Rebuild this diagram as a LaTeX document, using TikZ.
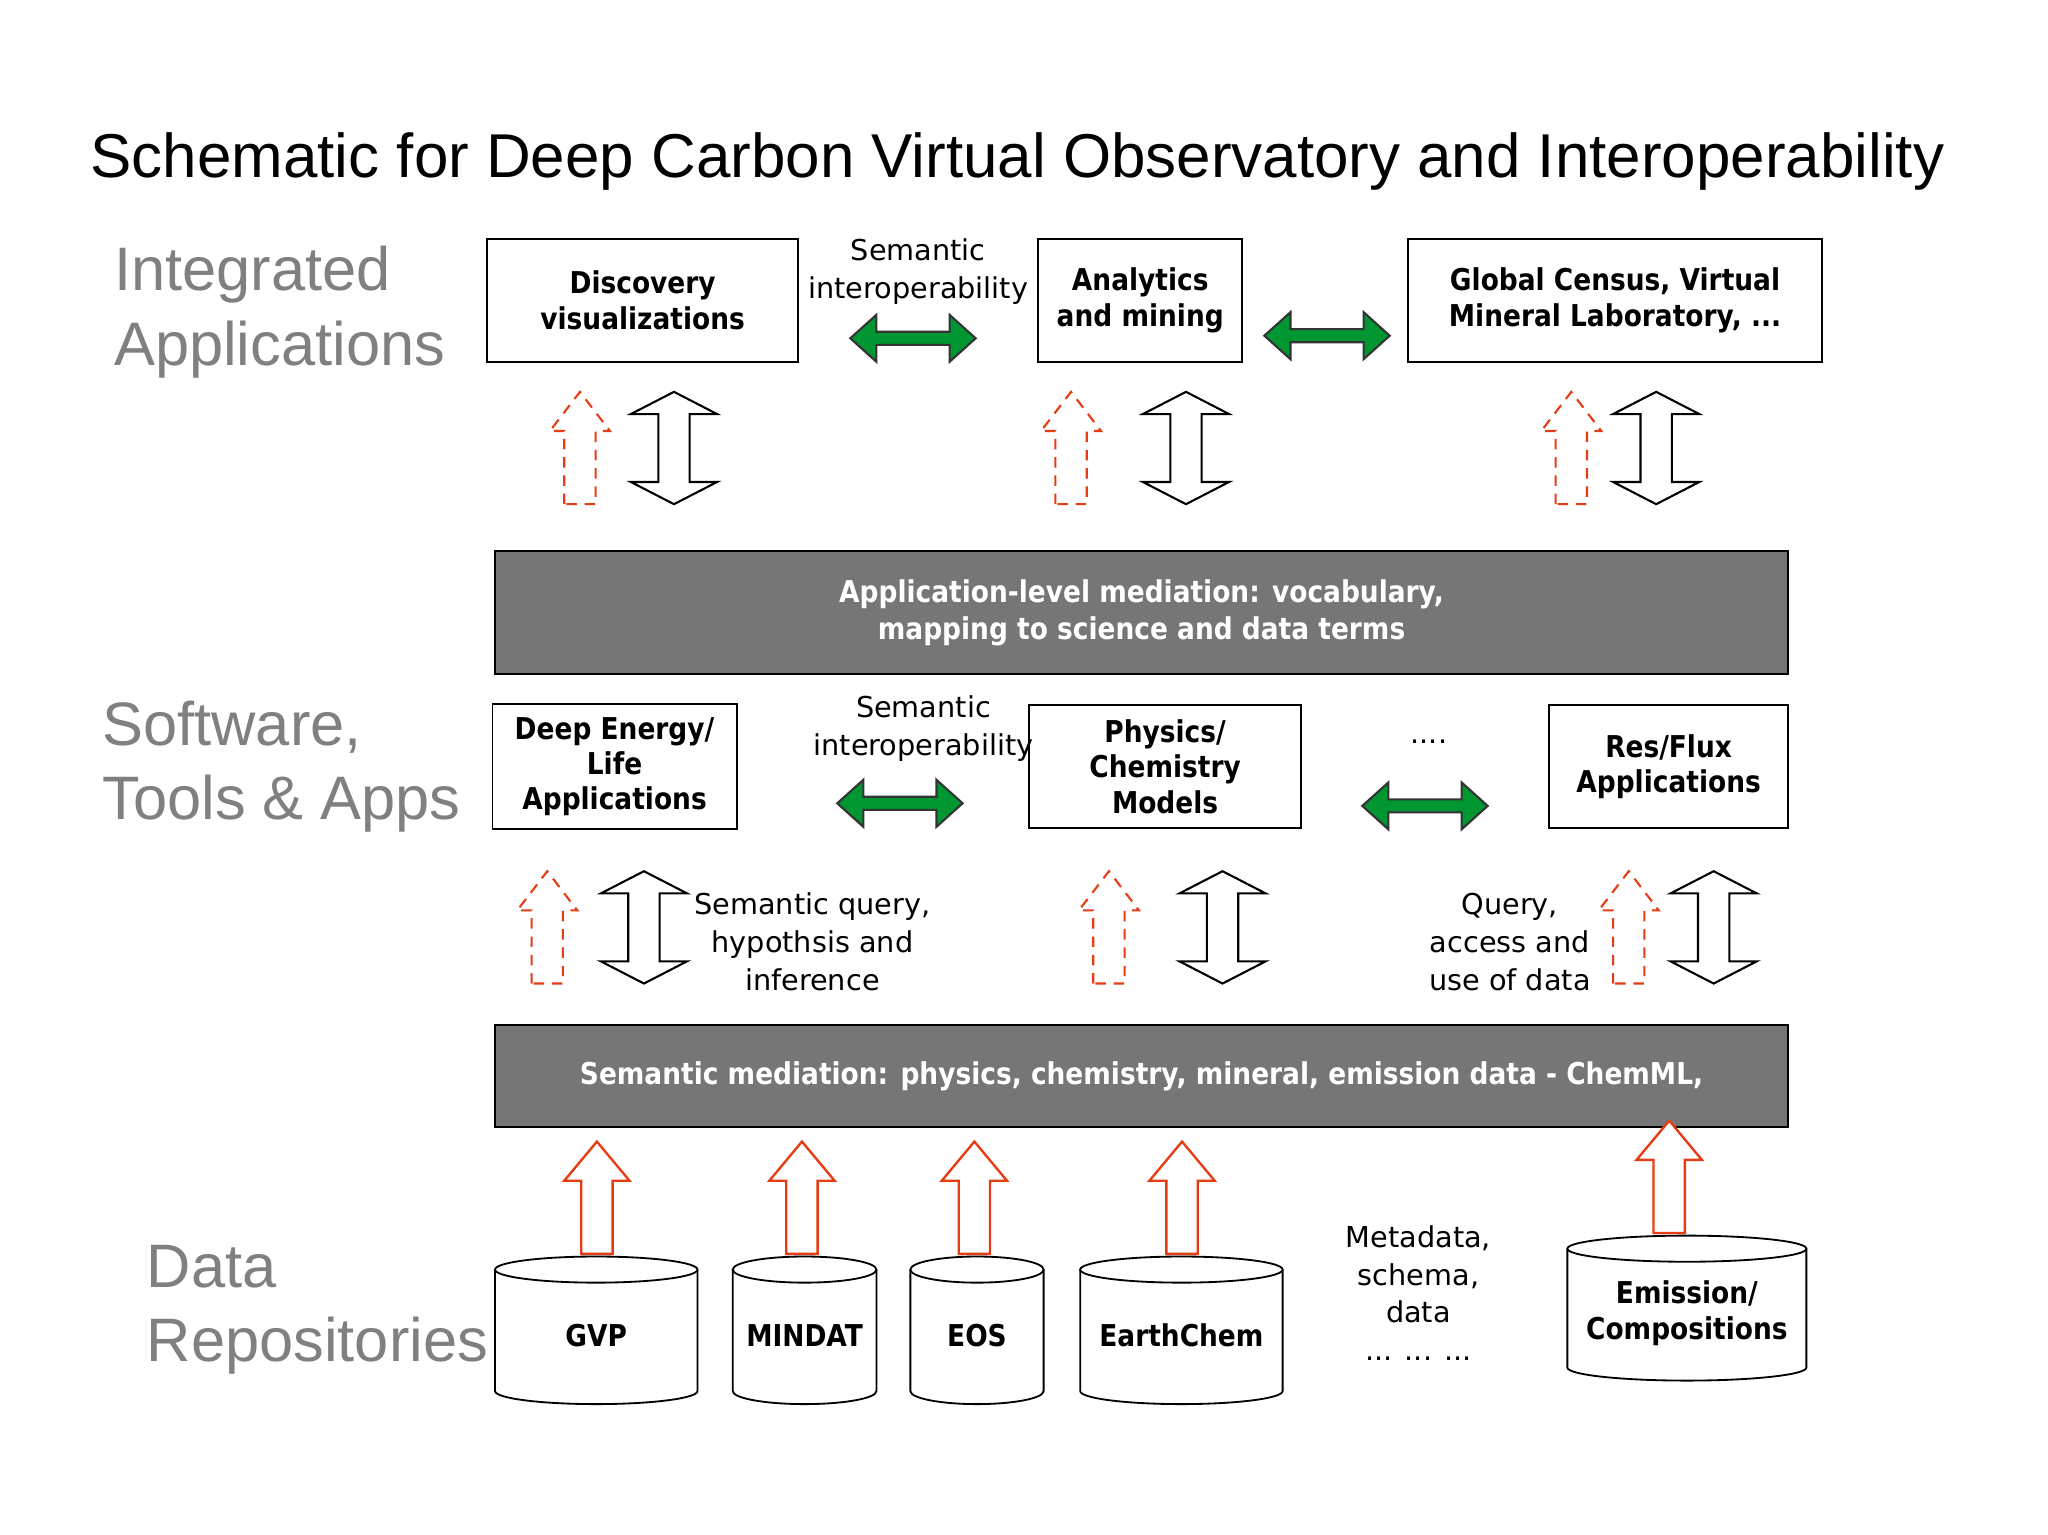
\documentclass[tikz,border=0pt]{standalone}
\usepackage{fontspec}
\setmainfont{DejaVu Sans}
\newfontfamily\arialf{Liberation Sans}
\newfontfamily\boldf{DejaVu Sans}[BoldFont={DejaVu Sans Bold},BoldFeatures={FakeStretch=0.88}]
\usetikzlibrary{positioning}
\definecolor{bargray}{RGB}{118,118,118}
\definecolor{sidegray}{RGB}{128,128,128}
\definecolor{agreen}{RGB}{0,150,50}
\definecolor{ared}{RGB}{230,60,20}
\tikzset{
  box/.style={draw=black,line width=0.7pt,fill=white,align=center,font=\boldf\bfseries\fontsize{11.5}{13.5}\selectfont,inner sep=0pt},
  bar/.style={draw=black,line width=0.7pt,fill=bargray,text=white,align=center,font=\boldf\bfseries\fontsize{11.5}{14}\selectfont,inner sep=0pt},
  side/.style={text=sidegray,font=\arialf\fontsize{23.5}{28.5}\selectfont,align=left,anchor=north west,inner sep=0pt},
  lbl/.style={font=\fontsize{11}{14.5}\selectfont,align=center,inner sep=0pt},
  cyl/.style={draw=black,line width=0.7pt,fill=white},
  cyltext/.style={font=\boldf\bfseries\fontsize{11.5}{13.5}\selectfont,align=center,inner sep=0pt},
  pics/harrow/.style={code={\draw[line width=0.8pt,fill=agreen,draw=black!80] (-48,0)--(-28,-18)--(-28,-5)--(28,-5)--(28,-18)--(48,0)--(28,18)--(28,5)--(-28,5)--(-28,18)--cycle;}},
  pics/varrow/.style={code={\draw[line width=0.8pt,fill=white] (0,-43)--(33,-26)--(12,-26)--(12,26)--(33,26)--(0,43)--(-33,26)--(-12,26)--(-12,-26)--(-33,-26)--cycle;}},
  pics/rdash/.style={code={\draw[line width=0.8pt,draw=ared,dash pattern=on 4pt off 3pt] (-12,43)--(-12,-13)--(-23,-13)--(0,-43)--(23,-13)--(12,-13)--(12,43)--cycle;}},
  pics/rsolid/.style={code={\draw[line width=0.9pt,draw=ared,fill=white] (-12,43)--(-12,-13)--(-25,-13)--(0,-43)--(25,-13)--(12,-13)--(12,43)--cycle;}},
}
\newcommand{\cylin}[6]{% name, cx, halfw, topy, boty, text
  \draw[cyl] (#2-#3,#4)--(#2-#3,#5) arc[start angle=180,end angle=0,x radius=#3,y radius=10] -- (#2+#3,#4);
  \draw[cyl] (#2,#4) ellipse[x radius=#3,y radius=10];
  \node[cyltext] (#1) at (#2,{(#4+#5)/2+4}) {#6};
}
\begin{document}
\begin{tikzpicture}[x=0.5pt,y=-0.5pt]
\useasboundingbox[fill=white] (0,0) rectangle (1568,1175);
\node[font=\arialf\fontsize{23.7}{28}\selectfont] (title) at (779,124) {Schematic for Deep Carbon Virtual Observatory and Interoperability};
\node[side] (s1) at (87,188) {Integrated\\Applications};
\node[side] (s2) at (78,536) {Software,\\Tools \& Apps};
\node[side] (s3) at (112,953) {Data\\Repositories};

\node[box,minimum width=119pt,minimum height=47pt] (disc) at (492,230) {Discovery\\visualizations};
\node[box,minimum width=78pt,minimum height=47pt] (anal) at (873,230) {Analytics\\and mining};
\node[box,minimum width=158.5pt,minimum height=47pt] (glob) at (1236.5,230) {Global Census, Virtual\\Mineral Laboratory, ...};
\node[lbl] (si1) at (703,208) {Semantic\\interoperability};
\pic at (699,259) {harrow};
\pic at (1016,257) {harrow};
\pic at (444,343) {rdash}; \pic at (516,343) {varrow};
\pic at (820,343) {rdash}; \pic at (908,343) {varrow};
\pic at (1203,343) {rdash}; \pic at (1268,343) {varrow};

\node[bar,minimum width=495pt,minimum height=47pt] (bar1) at (874,469) {Application-level mediation: vocabulary,\\mapping to science and data terms};

\node[box,minimum width=93.5pt,minimum height=48pt] (deep) at (470.5,587) {Deep Energy/\\Life\\Applications};
\node[box,minimum width=104pt,minimum height=47pt] (phys) at (892,587) {Physics/\\Chemistry\\Models};
\node[box,minimum width=91.5pt,minimum height=47pt] (res) at (1277.5,587) {Res/Flux\\Applications};
\node[lbl] (si2) at (707,558) {Semantic\\interoperability};
\node[lbl] (dots) at (1094,568) {....};
\pic at (689,615) {harrow};
\pic at (1091,617) {harrow};
\pic at (419,710) {rdash}; \pic at (493,710) {varrow};
\pic at (849,710) {rdash}; \pic at (936,710) {varrow};
\pic at (1247,710) {rdash}; \pic at (1312,710) {varrow};
\node[lbl] (sq) at (622,721) {Semantic query,\\hypothsis and\\inference};
\node[lbl] (qa) at (1156,721) {Query,\\access and\\use of data};

\node[bar,minimum width=495pt,minimum height=39pt] (bar2) at (874,824) {Semantic mediation: physics, chemistry, mineral, emission data - ChemML,};

\pic at (457,917) {rsolid};
\pic at (614,917) {rsolid};
\pic at (746,917) {rsolid};
\pic at (905,917) {rsolid};
\pic at (1278,901) {rsolid};

\cylin{gvp}{456.5}{77.5}{972}{1065}{GVP}
\cylin{mindat}{616}{55}{972}{1065}{MINDAT}
\cylin{eos}{748}{51}{972}{1065}{EOS}
\cylin{earth}{904.5}{77.5}{972}{1065}{EarthChem}
\cylin{emis}{1291.5}{91.5}{956}{1047}{Emission/\\Compositions}
\node[lbl] (meta) at (1086,990) {Metadata,\\schema,\\data\\... ... ...};
\end{tikzpicture}
\end{document}
